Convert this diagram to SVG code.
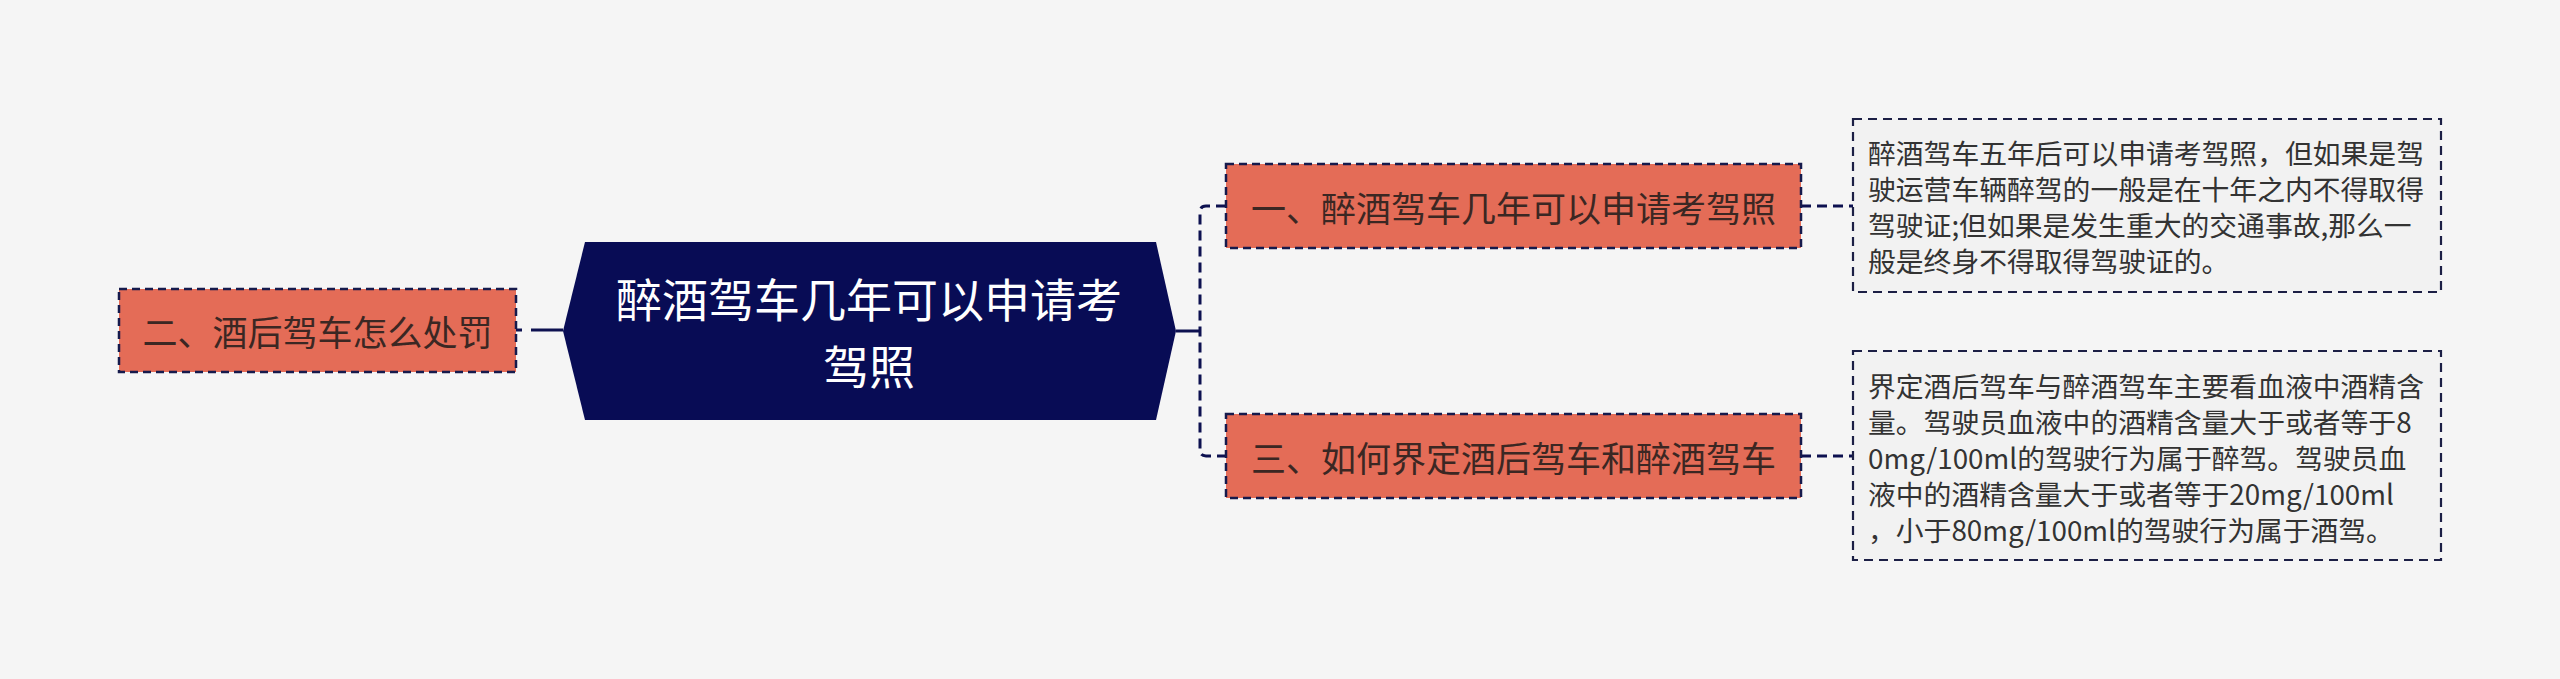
<svg xmlns="http://www.w3.org/2000/svg" width="2560" height="679" viewBox="0 0 2560 679">
<style>
.bg{fill:#f5f5f5}
.topic{fill:#e46c57;stroke:#161a4c;stroke-width:2.5;stroke-dasharray:8 5}
.topic-t{font-family:"Noto Sans CJK SC","Microsoft YaHei",sans-serif;font-size:35px;fill:#3b2723;text-anchor:middle;dominant-baseline:central}
.center{fill:#080c55}
.center-t{font-family:"Noto Sans CJK SC","Microsoft YaHei",sans-serif;font-size:46px;fill:#ffffff;text-anchor:middle;dominant-baseline:central}
.desc{fill:#f2f2f2;stroke:#1c1f45;stroke-width:2.2;stroke-dasharray:9 6}
.desc-t{font-family:"Noto Sans CJK SC","Microsoft YaHei",sans-serif;font-size:27.8px;fill:#333333;dominant-baseline:central}
.conn{fill:none;stroke:#0d1150;stroke-width:3}
.dash{stroke-dasharray:10 6}
</style>
<rect class="bg" x="0" y="0" width="2560" height="679"/>
<g id="connectors">
  <path class="conn" d="M516 330 L522 330"/>
  <path class="conn" d="M531 330 L563 330"/>
  <path class="conn" d="M1176 331 L1200 331"/>
  <path class="conn dash" d="M1226 206 L1206 206 Q1200 206 1200 212 L1200 450 Q1200 456 1206 456 L1226 456"/>
  <path class="conn dash" d="M1801 206 L1853 206"/>
  <path class="conn dash" d="M1801 456 L1853 456"/>
</g>
<g id="center">
  <polygon class="center" points="585,242 1156,242 1176,331 1156,420 585,420 563,331"/>
  <text class="center-t" x="869" y="297">醉酒驾车几年可以申请考</text>
  <text class="center-t" x="869" y="364">驾照</text>
</g>
<g id="node-left">
  <rect class="topic" x="119" y="289" width="397" height="83"/>
  <text class="topic-t" x="317.5" y="330">二、酒后驾车怎么处罚</text>
</g>
<g id="node-1">
  <rect class="topic" x="1226" y="164" width="575" height="84"/>
  <text class="topic-t" x="1513.5" y="206">一、醉酒驾车几年可以申请考驾照</text>
</g>
<g id="node-3">
  <rect class="topic" x="1226" y="414" width="575" height="84"/>
  <text class="topic-t" x="1513.5" y="456">三、如何界定酒后驾车和醉酒驾车</text>
</g>
<g id="desc-1">
  <rect class="desc" x="1853" y="119" width="588" height="173"/>
  <text class="desc-t" x="1868" y="152">醉酒驾车五年后可以申请考驾照，但如果是驾</text>
  <text class="desc-t" x="1868" y="188">驶运营车辆醉驾的一般是在十年之内不得取得</text>
  <text class="desc-t" x="1868" y="224">驾驶证;但如果是发生重大的交通事故,那么一</text>
  <text class="desc-t" x="1868" y="260">般是终身不得取得驾驶证的。</text>
</g>
<g id="desc-3">
  <rect class="desc" x="1853" y="351" width="588" height="209"/>
  <text class="desc-t" x="1868" y="385">界定酒后驾车与醉酒驾车主要看血液中酒精含</text>
  <text class="desc-t" x="1868" y="421">量。驾驶员血液中的酒精含量大于或者等于8</text>
  <text class="desc-t" x="1868" y="457">0mg/100ml的驾驶行为属于醉驾。驾驶员血</text>
  <text class="desc-t" x="1868" y="493">液中的酒精含量大于或者等于20mg/100ml</text>
  <text class="desc-t" x="1868" y="529">，小于80mg/100ml的驾驶行为属于酒驾。</text>
</g>
</svg>
